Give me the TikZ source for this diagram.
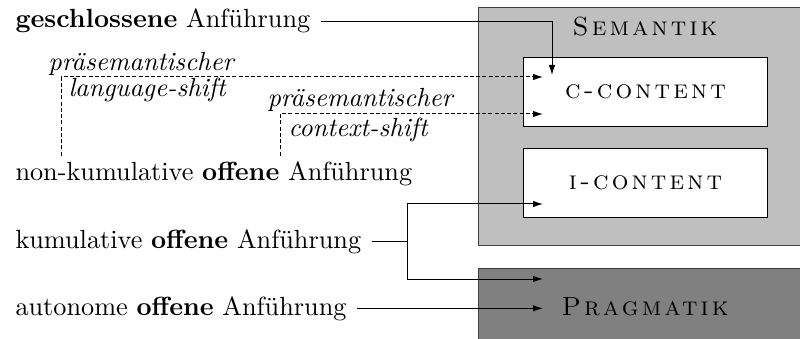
\documentclass[tikz,border=0pt]{standalone}
\usepackage{fontspec}
\newfontfamily\kapitaelchen{lmromancaps10-regular.otf}[LetterSpace=12]
\usetikzlibrary{arrows.meta}
\newcommand{\gesperrt}[1]{{\kapitaelchen #1}}

\begin{document}
\begin{tikzpicture}[x=0.4pt, y=-0.4pt,
  font=\fontsize{10.5}{12.6}\selectfont,
  quote/.style={anchor=base west, inner xsep=4pt, inner ysep=2pt},
  shiftlabel/.style={anchor=base west, inner sep=0pt, font=\fontsize{10.5}{12.6}\selectfont\itshape},
  ebene/.style={draw=black!75, anchor=north west, minimum width=140.8pt},
  contentbox/.style={draw=black, fill=white, anchor=north west, minimum width=97.6pt, minimum height=27.6pt},
  pfeil/.style={-{Latex[length=4pt,width=2.6pt]}},
  praesem/.style={pfeil, dash pattern=on 1.6pt off 0.9pt}]
\useasboundingbox (0,0) rectangle (800,339);

% Ebenen
\node[ebene, fill=gray!50, minimum height=95.2pt] (sem) at (478,7) {};
\node[ebene, fill=gray, minimum height=36.8pt] (prag) at (478,268) {};
\node[contentbox] (cc) at (523,57) {\gesperrt{c-content}};
\node[contentbox] (ic) at (523,148) {\gesperrt{i-content}};
\node (semlabel) at (645,27) {\gesperrt{Semantik}};
\node (praglabel) at (645,307) {\gesperrt{Pragmatik}};

% Anfuehrungsarten
\node[quote] (gesch) at (5,28) {\textbf{geschlossene} Anführung};
\node[quote] (nonkum) at (5,180) {non-kumulative \textbf{offene} Anführung};
\node[quote] (kum) at (5,248) {kumulative \textbf{offene} Anführung};
\node[quote] (auto) at (5,315) {autonome \textbf{offene} Anführung};

% Verschiebungen
\node[shiftlabel] (lang1) at (48,71) {präsemantischer};
\node[shiftlabel] (lang2) at (68,97) {language-shift};
\node[shiftlabel] (ctx1) at (267,107) {präsemantischer};
\node[shiftlabel] (ctx2) at (288,137) {context-shift};

% Knicke und Ziele
\coordinate (langknick) at (61,77);
\coordinate (ctxknick) at (280,114);
\coordinate (kumknick) at (407,242);
\coordinate (ccoben) at (552,75);
\coordinate (cclang) at (543,77);
\coordinate (ccctx) at (543,114);
\coordinate (ickum) at (543,204);
\coordinate (pragkum) at (543,279);
\coordinate (pragauto) at (543,307);

% Verbindungen
\draw[pfeil] (gesch.east) -| (ccoben);
\draw[praesem] (nonkum.north -| langknick) -- (langknick) -- (cclang);
\draw[praesem] (nonkum.north -| ctxknick) -- (ctxknick) -- (ccctx);
\draw (kum.east) -- (kum.east -| kumknick);
\draw[pfeil] (kum.east -| kumknick) |- (ickum);
\draw[pfeil] (kum.east -| kumknick) |- (pragkum);
\draw[pfeil] (auto.east) -- (auto.east -| pragauto);
\end{tikzpicture}
\end{document}
